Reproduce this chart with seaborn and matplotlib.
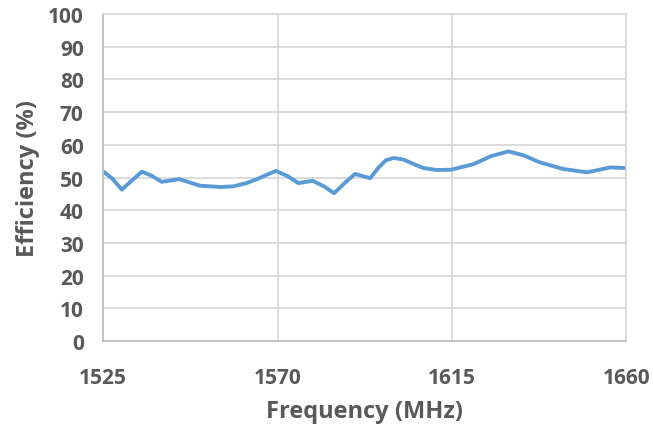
import pandas as pd
import seaborn as sns
import matplotlib.pyplot as plt

# --- Data ---
FREQ_MHZ = [1525.0, 1527.5, 1529.8, 1532.5, 1535.0, 1537.6, 1540.1, 1544.7,
            1550.0, 1555.2, 1558.6, 1562.0, 1564.7, 1567.5, 1569.6, 1572.5,
            1575.4, 1579.1, 1582.0, 1584.6, 1587.5, 1590.0, 1593.9, 1596.1,
            1598.0, 1600.0, 1602.5, 1605.0, 1607.7, 1611.1, 1614.8, 1620.6,
            1625.0, 1629.6, 1633.5, 1637.8, 1643.8, 1649.9, 1655.9, 1660.0]
EFFICIENCY = [51.9, 49.5, 46.3, 49.2, 51.8, 50.5, 48.7, 49.5,
              47.5, 47.1, 47.3, 48.3, 49.5, 51.0, 52.0, 50.5,
              48.3, 49.0, 47.3, 45.2, 48.5, 51.1, 49.8, 53.1,
              55.3, 56.0, 55.5, 54.2, 52.9, 52.3, 52.4, 54.1,
              56.5, 58.0, 56.8, 54.6, 52.6, 51.6, 53.1, 52.9]
X_TICKS = [1525, 1570, 1615, 1660]
Y_TICKS = list(range(0, 101, 10))

LINE_COLOR = "#5B9BD5"
TEXT_COLOR = "#595959"
GRID_COLOR = "#D9D9D9"

df = pd.DataFrame({"Frequency (MHz)": FREQ_MHZ, "Efficiency (%)": EFFICIENCY})

sns.set_theme(style="whitegrid")
plt.rcParams["font.family"] = ["Open Sans", "DejaVu Sans"]

fig = plt.figure(figsize=(6.53, 4.31), dpi=100)
ax = fig.add_axes([0.158, 0.2065, 0.801, 0.7585])

sns.lineplot(data=df, x="Frequency (MHz)", y="Efficiency (%)", ax=ax,
             color=LINE_COLOR, linewidth=2.8, solid_joinstyle="round",
             solid_capstyle="round")

ax.set_xlim(1525, 1660)
ax.set_ylim(0, 100)
ax.set_xticks(X_TICKS)
ax.set_yticks(Y_TICKS)

ax.grid(True, color=GRID_COLOR, linewidth=1.3)
for side, spine in ax.spines.items():
    spine.set_color(GRID_COLOR)
    spine.set_linewidth(1.3)
ax.spines["left"].set_color("#BFBFBF")
ax.spines["bottom"].set_color("#BFBFBF")

ax.tick_params(axis="x", length=0, pad=19, labelsize=15, labelcolor=TEXT_COLOR)
ax.tick_params(axis="y", length=0, pad=14, labelsize=15, labelcolor=TEXT_COLOR)
for lbl in ax.get_xticklabels() + ax.get_yticklabels():
    lbl.set_fontweight("bold")

ax.set_xlabel("Frequency (MHz)", fontsize=17, fontweight="bold",
              color=TEXT_COLOR, labelpad=8)
ax.set_ylabel("Efficiency (%)", fontsize=17, fontweight="bold",
              color=TEXT_COLOR, labelpad=6)

fig.savefig("out.png", dpi=100, facecolor="white")
